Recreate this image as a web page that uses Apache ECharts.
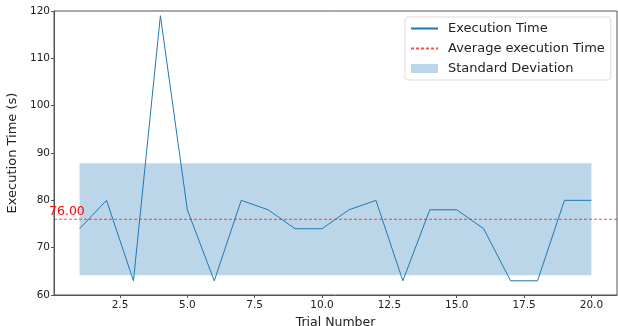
<!DOCTYPE html>
<html>
<head>
<meta charset="utf-8">
<script src="https://cdn.jsdelivr.net/npm/echarts@6/dist/echarts.min.js"></script>
<style>
  html, body { margin: 0; padding: 0; background: #fff; }
  #main { width: 618px; height: 326px; }
</style>
</head>
<body>
<div id="main"></div>
<script>
// trial numbers and measured execution time (s)
const trials = [1, 2, 3, 4, 5, 6, 7, 8, 9, 10, 11, 12, 13, 14, 15, 16, 17, 18, 19, 20];
const execTimes = [74, 80, 63, 119, 78, 63, 80, 78, 74, 74, 78, 80, 63, 78, 78, 74, 63, 63, 80, 80];
const xTicks = [2.5, 5, 7.5, 10, 12.5, 15, 17.5, 20];
const yTicks = [60, 70, 80, 90, 100, 110, 120];

const mean = execTimes.reduce((a, b) => a + b, 0) / execTimes.length;
const std = Math.sqrt(execTimes.reduce((a, v) => a + (v - mean) * (v - mean), 0) / execTimes.length);

const FONT = 'DejaVu Sans';
const BLUE = '#1f77b4';
const AXIS = '#555';
const BAND = 'rgba(31,119,180,0.3)';

const chart = echarts.init(document.getElementById('main'));

chart.setOption({
    animation: false,
    textStyle: { fontFamily: FONT },
    grid: {
        left: 54, right: 1, top: 11, bottom: 31,
        containLabel: false, outerBoundsMode: 'none',
        show: true, borderColor: AXIS, borderWidth: 1
    },
    xAxis: {
        type: 'value',
        min: 0.05,
        max: 20.95,
        name: 'Trial Number',
        nameLocation: 'middle',
        nameGap: 14,
        nameTextStyle: { fontSize: 12.5, color: '#222', fontFamily: FONT },
        axisLine: { show: true, lineStyle: { color: AXIS } },
        axisTick: { show: true, length: 3, lineStyle: { color: AXIS }, customValues: xTicks },
        axisLabel: {
            fontSize: 10.5, color: '#222', margin: 5, fontFamily: FONT,
            customValues: xTicks,
            formatter: v => v.toFixed(1)
        },
        splitLine: { show: false }
    },
    yAxis: {
        type: 'value',
        min: yTicks[0],
        max: yTicks[yTicks.length - 1],
        interval: 10,
        name: 'Execution Time (s)',
        nameLocation: 'middle',
        nameGap: 27,
        nameTextStyle: { fontSize: 13, color: '#222', fontFamily: FONT },
        axisLine: { show: true, lineStyle: { color: AXIS } },
        axisTick: { show: true, length: 3, lineStyle: { color: AXIS } },
        axisLabel: { fontSize: 10.5, color: '#222', margin: 4, fontFamily: FONT },
        splitLine: { show: false }
    },
    legend: {
        orient: 'vertical',
        left: 405,
        top: 17,
        padding: [4, 6, 4, 5],
        itemGap: 5,
        itemWidth: 27,
        itemHeight: 9,
        backgroundColor: 'rgba(255,255,255,0.8)',
        borderColor: '#ddd',
        borderWidth: 1,
        borderRadius: 3,
        textStyle: { fontSize: 13, lineHeight: 15, color: '#222', fontFamily: FONT, padding: [0, 0, 0, 5] },
        data: [
            { name: 'Execution Time', itemStyle: { opacity: 0 } },
            { name: 'Average execution Time', itemStyle: { opacity: 0 } },
            { name: 'Standard Deviation', icon: 'rect', itemStyle: { color: BAND } }
        ]
    },
    series: [
        {
            name: 'Standard Deviation',
            type: 'line',
            data: [],
            z: 1,
            itemStyle: { color: BAND },
            markArea: {
                silent: true,
                itemStyle: { color: BAND },
                data: [[
                    { coord: [trials[0], mean - std] },
                    { coord: [trials[trials.length - 1], mean + std] }
                ]]
            }
        },
        {
            name: 'Execution Time',
            type: 'line',
            z: 3,
            showSymbol: false,
            symbol: 'none',
            lineStyle: { color: BLUE, width: 1 },
            itemStyle: { color: BLUE },
            data: trials.map((t, i) => [t, execTimes[i]])
        },
        {
            name: 'Average execution Time',
            type: 'line',
            z: 4,
            showSymbol: false,
            symbol: 'none',
            lineStyle: { color: 'rgba(255,0,0,0.7)', width: 1, type: [3, 2] },
            itemStyle: { color: 'rgba(255,0,0,0.7)' },
            data: [[0.05, mean], [20.95, mean]]
        }
    ]
});

// mean value label placed next to the average line
const p = chart.convertToPixel({ gridIndex: 0 }, [0.05, mean]);
chart.setOption({
    graphic: [{
        type: 'text',
        x: p[0] - 5,
        y: p[1] - 1,
        style: {
            text: mean.toFixed(2),
            fill: '#ff0000',
            font: '12.5px "DejaVu Sans"',
            textVerticalAlign: 'bottom'
        },
        z: 10
    }]
});
</script>
</body>
</html>
